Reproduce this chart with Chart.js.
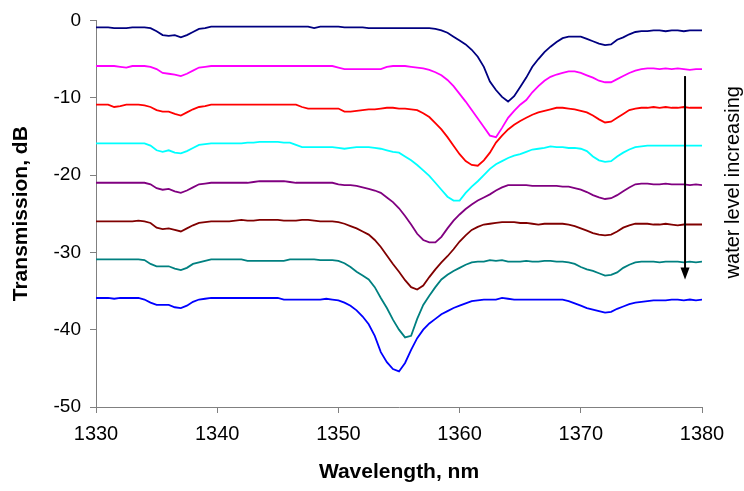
<!DOCTYPE html>
<html>
<head>
<meta charset="utf-8">
<script src="https://cdn.jsdelivr.net/npm/chart.js@4.4.1/dist/chart.umd.min.js"></script>
<style>
  body { margin: 0; background: #fff; }
  canvas { display: block; }
</style>
</head>
<body>
<canvas id="chart" width="744" height="491"></canvas>
<script>
// wavelength grid, nm
const wavelength = [
  1330, 1330.5, 1331, 1331.5, 1332, 1332.5, 1333, 1333.5, 1334, 1334.5,
  1335, 1335.5, 1336, 1336.5, 1337, 1337.5, 1338, 1338.5, 1339, 1339.5,
  1340, 1340.5, 1341, 1341.5, 1342, 1342.5, 1343, 1343.5, 1344, 1344.5,
  1345, 1345.5, 1346, 1346.5, 1347, 1347.5, 1348, 1348.5, 1349, 1349.5,
  1350, 1350.5, 1351, 1351.5, 1352, 1352.5, 1353, 1353.5, 1354, 1354.5,
  1355, 1355.5, 1356, 1356.5, 1357, 1357.5, 1358, 1358.5, 1359, 1359.5,
  1360, 1360.5, 1361, 1361.5, 1362, 1362.5, 1363, 1363.5, 1364, 1364.5,
  1365, 1365.5, 1366, 1366.5, 1367, 1367.5, 1368, 1368.5, 1369, 1369.5,
  1370, 1370.5, 1371, 1371.5, 1372, 1372.5, 1373, 1373.5, 1374, 1374.5,
  1375, 1375.5, 1376, 1376.5, 1377, 1377.5, 1378, 1378.5, 1379, 1379.5,
  1380
];

// transmission, dB (top curve = lowest water level)
const level1 = [
  -0.9, -0.9, -0.9, -1.0, -1.0, -1.0, -0.9, -0.9, -0.9, -1.0,
  -1.4, -1.9, -2.0, -1.9, -2.2, -1.9, -1.5, -1.1, -1.0, -0.8,
  -0.8, -0.8, -0.8, -0.8, -0.8, -0.8, -0.8, -0.8, -0.8, -0.8,
  -0.8, -0.8, -0.8, -0.8, -0.8, -0.8, -1.0, -0.8, -0.8, -0.8,
  -0.8, -0.9, -0.9, -0.9, -0.9, -1.0, -1.0, -1.0, -1.0, -1.0,
  -1.0, -1.0, -1.0, -1.0, -1.0, -1.0, -1.1, -1.3, -1.6, -2.1,
  -2.6, -3.1, -3.8, -4.7, -6.0, -7.9, -9.0, -9.9, -10.5, -9.8,
  -8.6, -7.4, -6.0, -5.0, -4.1, -3.4, -2.8, -2.3, -2.1, -2.1,
  -2.1, -2.4, -2.7, -3.0, -3.2, -3.1, -2.5, -2.2, -1.8, -1.5,
  -1.4, -1.4, -1.3, -1.3, -1.4, -1.3, -1.3, -1.4, -1.3, -1.3,
  -1.3
];
const level2 = [
  -5.9, -5.9, -5.9, -5.9, -6.0, -6.1, -5.9, -5.9, -5.9, -6.0,
  -6.3, -6.8, -6.9, -7.0, -7.2, -6.9, -6.5, -6.1, -6.0, -5.9,
  -5.9, -5.9, -5.9, -5.9, -5.9, -5.9, -5.9, -5.9, -5.9, -5.9,
  -5.9, -5.9, -5.9, -5.9, -5.9, -5.9, -5.9, -5.9, -5.9, -5.9,
  -6.1, -6.3, -6.3, -6.3, -6.3, -6.3, -6.3, -6.3, -6.0, -5.9,
  -5.9, -5.9, -6.0, -6.1, -6.2, -6.4, -6.7, -7.1, -7.7, -8.5,
  -9.5, -10.5, -11.6, -12.7, -13.8, -14.9, -15.1, -13.9, -12.6, -11.7,
  -10.9, -10.3, -9.3, -8.5, -7.8, -7.3, -7.0, -6.8, -6.6, -6.6,
  -6.8, -7.1, -7.4, -7.8, -8.0, -8.0, -7.6, -7.2, -6.8, -6.5,
  -6.3, -6.2, -6.2, -6.3, -6.2, -6.3, -6.2, -6.3, -6.4, -6.3,
  -6.3
];
const level3 = [
  -10.9, -10.9, -10.9, -11.2, -11.1, -10.9, -10.9, -10.9, -11.0, -11.2,
  -11.6, -11.8, -11.8, -12.1, -12.3, -11.9, -11.5, -11.2, -11.1, -10.9,
  -10.9, -10.9, -10.9, -10.9, -10.9, -10.9, -10.9, -10.9, -10.9, -10.9,
  -10.9, -10.9, -10.9, -10.9, -11.2, -11.4, -11.4, -11.4, -11.4, -11.4,
  -11.4, -11.8, -11.8, -11.7, -11.6, -11.5, -11.5, -11.4, -11.3, -11.3,
  -11.4, -11.4, -11.5, -11.6, -12.0, -12.5, -13.3, -14.1, -15.1, -16.2,
  -17.3, -18.2, -18.7, -18.8, -18.1, -17.1, -15.8, -14.9, -14.1, -13.5,
  -13.0, -12.6, -12.2, -11.9, -11.7, -11.5, -11.3, -11.3, -11.4, -11.5,
  -11.7, -11.9, -12.3, -12.8, -13.2, -13.1, -12.6, -12.1, -11.6, -11.4,
  -11.3, -11.3, -11.2, -11.3, -11.2, -11.3, -11.3, -11.2, -11.3, -11.3,
  -11.3
];
const level4 = [
  -15.9, -15.9, -15.9, -15.9, -15.9, -15.9, -15.9, -15.9, -15.9, -16.2,
  -16.8, -17.0, -16.8, -17.1, -17.2, -16.9, -16.5, -16.1, -16.0, -15.9,
  -15.9, -15.9, -15.9, -15.9, -15.9, -15.8, -15.8, -15.7, -15.7, -15.7,
  -15.7, -15.8, -15.8, -16.1, -16.4, -16.4, -16.4, -16.4, -16.4, -16.4,
  -16.5, -16.6, -16.5, -16.4, -16.4, -16.4, -16.5, -16.6, -16.8, -17.0,
  -17.1, -17.6, -18.1, -18.7, -19.4, -20.1, -21.0, -21.9, -22.8, -23.3,
  -23.3, -22.3, -21.5, -20.8, -20.0, -19.2, -18.6, -18.2, -17.8, -17.5,
  -17.3, -17.0, -16.7, -16.6, -16.5, -16.3, -16.4, -16.4, -16.5, -16.5,
  -16.6, -16.9, -17.6, -18.1, -18.3, -18.2, -17.6, -17.1, -16.7, -16.4,
  -16.3, -16.2, -16.2, -16.2, -16.2, -16.2, -16.2, -16.2, -16.2, -16.2,
  -16.2
];
const level5 = [
  -21.0, -21.0, -21.0, -21.0, -21.0, -21.0, -21.0, -21.0, -21.0, -21.2,
  -21.7, -21.9, -21.8, -22.1, -22.3, -22.0, -21.6, -21.2, -21.1, -21.0,
  -21.0, -21.0, -21.0, -21.0, -21.0, -21.0, -20.9, -20.8, -20.8, -20.8,
  -20.8, -20.8, -20.9, -21.0, -21.0, -21.0, -21.0, -21.0, -21.0, -21.0,
  -21.2, -21.3, -21.3, -21.4, -21.6, -21.8, -22.0, -22.3, -22.9, -23.5,
  -24.3, -25.3, -26.4, -27.6, -28.4, -28.7, -28.7, -28.0, -26.9, -25.9,
  -25.1, -24.4, -23.8, -23.3, -22.9, -22.5, -22.0, -21.6, -21.3, -21.3,
  -21.3, -21.3, -21.4, -21.4, -21.4, -21.4, -21.4, -21.5, -21.5, -21.7,
  -21.9, -22.2, -22.6, -22.9, -23.1, -23.0, -22.6, -22.1, -21.6, -21.2,
  -21.1, -21.1, -21.2, -21.2, -21.1, -21.2, -21.2, -21.2, -21.3, -21.2,
  -21.3
];
const level6 = [
  -26.0, -26.0, -26.0, -26.0, -26.0, -26.0, -26.0, -25.9, -26.0, -26.2,
  -26.8, -27.0, -26.9, -27.1, -27.3, -26.9, -26.5, -26.2, -26.1, -26.0,
  -26.0, -26.0, -26.0, -25.9, -25.8, -25.9, -25.9, -25.8, -25.8, -25.8,
  -25.8, -25.9, -25.9, -25.9, -25.8, -25.8, -25.9, -26.0, -26.0, -26.0,
  -26.1, -26.3, -26.6, -26.9, -27.3, -27.7, -28.4, -29.3, -30.4, -31.5,
  -32.5, -33.6, -34.5, -34.8, -34.3, -33.2, -32.2, -31.3, -30.5, -29.6,
  -28.6, -27.8, -27.1, -26.7, -26.4, -26.3, -26.2, -26.1, -26.1, -26.1,
  -26.2, -26.2, -26.3, -26.4, -26.3, -26.3, -26.3, -26.3, -26.4, -26.6,
  -26.9, -27.2, -27.5, -27.7, -27.8, -27.7, -27.3, -26.8, -26.5, -26.3,
  -26.3, -26.3, -26.4, -26.4, -26.3, -26.4, -26.5, -26.4, -26.4, -26.4,
  -26.4
];
const level7 = [
  -30.9, -30.9, -30.9, -30.9, -30.9, -30.9, -30.9, -30.9, -31.0, -31.5,
  -31.8, -31.8, -31.8, -32.1, -32.3, -32.0, -31.5, -31.3, -31.1, -30.9,
  -30.9, -30.9, -30.9, -30.9, -30.9, -31.1, -31.1, -31.1, -31.1, -31.1,
  -31.1, -31.1, -30.9, -30.9, -30.9, -30.9, -30.9, -31.0, -31.0, -31.0,
  -31.1, -31.4, -31.9, -32.5, -33.0, -33.5, -34.5, -35.9, -37.2, -38.7,
  -40.0, -41.0, -40.8, -38.6, -36.8, -35.6, -34.5, -33.5, -32.9, -32.4,
  -32.0, -31.6, -31.3, -31.2, -31.2, -31.0, -31.1, -31.0, -31.2, -31.2,
  -31.2, -31.1, -31.2, -31.2, -31.1, -31.1, -31.2, -31.2, -31.3, -31.5,
  -31.9, -32.2, -32.4, -32.7, -33.0, -32.9, -32.6, -32.0, -31.6, -31.3,
  -31.2, -31.2, -31.2, -31.3, -31.2, -31.2, -31.2, -31.3, -31.2, -31.3,
  -31.2
];
const level8 = [
  -35.9, -35.9, -35.9, -36.0, -35.9, -35.9, -35.9, -35.9, -36.1, -36.5,
  -36.8, -36.8, -36.8, -37.1, -37.2, -36.9, -36.4, -36.1, -36.0, -35.9,
  -35.9, -35.9, -35.9, -35.9, -35.9, -35.9, -35.9, -35.9, -35.9, -35.9,
  -35.9, -36.1, -36.1, -36.1, -36.1, -36.1, -36.1, -36.1, -36.0, -36.1,
  -36.2, -36.5, -36.9, -37.5, -38.3, -39.3, -40.8, -42.9, -44.2, -45.1,
  -45.4, -44.3, -42.6, -41.1, -40.0, -39.2, -38.6, -38.0, -37.6, -37.2,
  -36.9, -36.6, -36.3, -36.2, -36.1, -36.1, -36.1, -35.9, -36.0, -36.1,
  -36.1, -36.1, -36.1, -36.1, -36.1, -36.1, -36.1, -36.1, -36.3, -36.6,
  -36.9, -37.2, -37.4, -37.6, -37.8, -37.7, -37.3, -37.0, -36.7, -36.5,
  -36.4, -36.3, -36.2, -36.2, -36.2, -36.1, -36.1, -36.2, -36.1, -36.2,
  -36.1
];

const series = [level1, level2, level3, level4, level5, level6, level7, level8];
const colors = ['#000080', '#ff00ff', '#ff0000', '#00ffff', '#800080', '#800000', '#008080', '#0000ff'];

const xTicks = [1330, 1340, 1350, 1360, 1370, 1380];
const yTicks = [0, -10, -20, -30, -40, -50];

const datasets = series.map((s, k) => ({
    label: 'level ' + (k + 1),
    data: s.map((v, i) => ({ x: wavelength[i], y: v })),
    borderColor: colors[k],
    borderWidth: 1.8,
    pointRadius: 0,
    tension: 0,
    fill: false,
}));

// arrow + "water level increasing" note on the right
const arrowNote = {
    id: 'arrowNote',
    afterDraw(chart) {
        const { ctx, scales: { x, y } } = chart;
        const ax = x.getPixelForValue(1378.6);
        const y1 = y.getPixelForValue(-7.2);
        const y2 = y.getPixelForValue(-33.5);
        ctx.save();
        ctx.strokeStyle = '#000';
        ctx.fillStyle = '#000';
        ctx.lineWidth = 2;
        ctx.beginPath();
        ctx.moveTo(ax, y1);
        ctx.lineTo(ax, y2 - 10);
        ctx.stroke();
        ctx.beginPath();
        ctx.moveTo(ax - 4.5, y2 - 12);
        ctx.lineTo(ax + 4.5, y2 - 12);
        ctx.lineTo(ax, y2);
        ctx.closePath();
        ctx.fill();

        ctx.translate(739, y2 - 1);
        ctx.rotate(-Math.PI / 2);
        ctx.font = '20px "Liberation Sans", Arial, sans-serif';
        ctx.textAlign = 'left';
        ctx.textBaseline = 'alphabetic';
        ctx.fillText('water level increasing', 0, 0);
        ctx.restore();
    }
};

const config = {
    type: 'line',
    data: { datasets: datasets },
    options: {
        responsive: false,
        animation: false,
        devicePixelRatio: 1,
        layout: {
            padding: { top: 16, right: 42, left: 0, bottom: 0 },
        },
        plugins: {
            legend: { display: false },
            tooltip: { enabled: false },
        },
        scales: {
            x: {
                type: 'linear',
                min: 1330,
                max: 1380,
                afterBuildTicks: (scale) => { scale.ticks = xTicks.map(v => ({ value: v })); },
                afterFit: (scale) => { scale.height = 84; },
                border: { color: '#808080', width: 1 },
                grid: { drawOnChartArea: false, color: '#808080', tickLength: 6 },
                ticks: {
                    color: '#000',
                    padding: 9,
                    maxRotation: 0,
                    font: { family: '"Liberation Sans", Arial, sans-serif', size: 20 },
                    callback: (v) => String(v),
                },
                title: {
                    display: true,
                    text: 'Wavelength, nm',
                    color: '#000',
                    padding: { top: 0, bottom: 6 },
                    font: { family: '"Liberation Sans", Arial, sans-serif', size: 21, weight: 'bold' },
                },
            },
            y: {
                min: -50,
                max: 0,
                afterBuildTicks: (scale) => { scale.ticks = yTicks.map(v => ({ value: v })); },
                afterFit: (scale) => { scale.width = 96; },
                border: { color: '#808080', width: 1 },
                grid: { drawOnChartArea: false, color: '#808080', tickLength: 6 },
                ticks: {
                    color: '#000',
                    padding: 9,
                    font: { family: '"Liberation Sans", Arial, sans-serif', size: 19 },
                    callback: (v) => String(v),
                },
                title: {
                    display: true,
                    text: 'Transmission, dB',
                    color: '#000',
                    padding: { top: 9, bottom: 0 },
                    font: { family: '"Liberation Sans", Arial, sans-serif', size: 21, weight: 'bold' },
                },
            },
        },
    },
    plugins: [arrowNote],
};

const ctx = document.getElementById('chart').getContext('2d');
const chart = new Chart(ctx, config);
</script>
</body>
</html>
